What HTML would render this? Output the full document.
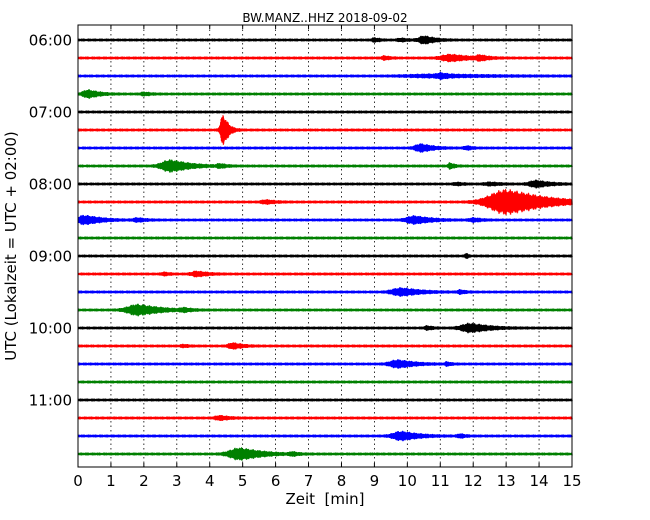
<!DOCTYPE html>
<html><head><meta charset="utf-8"><style>
html,body{margin:0;padding:0;background:#fff;}
svg{display:block;font-family:"DejaVu Sans","Liberation Sans",sans-serif;}
</style></head><body>
<svg id="chart" width="650" height="520" viewBox="0 0 650 520">
<rect x="0" y="0" width="650" height="520" fill="#fff"/>
<text x="325" y="22" font-size="12" text-anchor="middle">BW.MANZ..HHZ 2018-09-02</text>
<g id="grid"></g>
<g id="traces"></g>
<rect x="78" y="25" width="494" height="442" fill="none" stroke="#000" stroke-width="1"/>
<g id="axes"></g>
<text x="325" y="504" font-size="15" text-anchor="middle" xml:space="preserve">Zeit  [min]</text>
<text transform="translate(16,246) rotate(-90)" font-size="15" text-anchor="middle">UTC (Lokalzeit = UTC + 02:00)</text>
</svg>
<script>
const xTicks=[0,1,2,3,4,5,6,7,8,9,10,11,12,13,14,15];
const traceLabels=["06:00","","","","07:00","","","","08:00","","","","09:00","","","","10:00","","","","11:00","","",""];
const traceColors=["#000","#f00","#00f","#008000"];
// events: trace index, peak minute, amplitude (px), duration (min)
const evTrace=[0,0,0,1,1,1,2,2,3,3,5,6,6,7,7,7,8,8,8,9,9,10,10,10,10,12,13,13,14,14,15,15,16,16,17,17,18,18,21,22,22,23,23];
const evMinute=[9.0,9.8,10.5,9.3,11.3,12.2,10.8,11.0,0.3,2.0,4.4,10.4,11.8,2.8,4.3,11.3,12.5,13.9,11.5,13.0,5.7,0.2,1.8,10.2,12.0,11.8,3.6,2.6,9.8,11.6,1.8,3.2,11.9,10.6,4.7,3.2,9.7,11.2,4.3,9.8,11.6,4.9,6.5];
const evAmp=[1.5,1.2,3.5,1.5,3,2,1.2,1.5,3.5,1.2,15,3.5,1.5,5.5,1.5,2.5,1.2,3,1,12,1.5,4,1.5,3.5,1.5,2.5,2.2,1.2,3.5,1.5,5,1.5,4,1.5,2.5,1,3.5,1.5,1.8,4,1.5,5.5,1.5];
const evDur=[0.4,0.5,0.8,0.4,1.4,0.6,4,0.5,0.8,0.5,0.4,0.9,0.4,1.4,0.5,0.3,0.8,1.0,0.5,2.8,0.7,1.2,0.6,1.2,0.6,0.1,0.8,0.4,1.4,0.4,1.6,0.5,1.4,0.4,0.7,0.4,1.2,0.3,0.7,1.3,0.4,1.6,0.4];

const X0=78,X1=572,Y0=25,Y1=467,T0=40,DT=18;
const xs=m=>X0+(m-xTicks[0])/(xTicks[xTicks.length-1]-xTicks[0])*(X1-X0);
const ys=i=>T0+i*DT;
const NS="http://www.w3.org/2000/svg";
const grid=document.getElementById('grid'),axes=document.getElementById('axes'),tr=document.getElementById('traces');
xTicks.forEach(t=>{
  const x=xs(t);
  if(t>xTicks[0]&&t<xTicks[xTicks.length-1]){
    const l=document.createElementNS(NS,'line');
    
    
    l.setAttribute('x1',x);l.setAttribute('x2',x);l.setAttribute('y1',Y0);l.setAttribute('y2',Y1);
    l.setAttribute('stroke','#000');l.setAttribute('stroke-width','0.8');l.setAttribute('stroke-dasharray','1.5,3');
    grid.appendChild(l);
  }
  const tx=document.createElementNS(NS,'text');
  
  
  tx.setAttribute('x',x);tx.setAttribute('y',486);tx.setAttribute('font-size','15');tx.setAttribute('text-anchor','middle');
  tx.textContent=t;axes.appendChild(tx);
  [[Y0,Y0+4],[Y1-4,Y1]].forEach(p=>{
    const k=document.createElementNS(NS,'line');
    
    
    k.setAttribute('x1',x);k.setAttribute('x2',x);k.setAttribute('y1',p[0]);k.setAttribute('y2',p[1]);k.setAttribute('stroke','#000');
    axes.appendChild(k);
  });
});
traceLabels.forEach((lab,i)=>{
  if(!lab)return;
  const tx=document.createElementNS(NS,'text');
  
  
  tx.setAttribute('x',72);tx.setAttribute('y',ys(i)+5.5);tx.setAttribute('font-size','15');tx.setAttribute('text-anchor','end');
  tx.textContent=lab;axes.appendChild(tx);
});
function env(i,m){
  let a=1.5;
  for(let k=0;k<evTrace.length;k++){
    if(evTrace[k]!==i)continue;
    const d=m-evMinute[k];
    const rise=Math.max(0.05,evDur[k]*0.22);
    let e=d<0?Math.exp(-Math.pow(d/rise,2)):Math.exp(-Math.pow(d/(evDur[k]*0.45),1.3));
    a+=evAmp[k]*e;
  }
  return a;
}
for(let i=0;i<traceLabels.length;i++){
  const y=ys(i);let d='';
  const m0=xTicks[0],m1=xTicks[xTicks.length-1];
  for(let x=X0;x<=X1;x+=0.5){
    const m=m0+(x-X0)/(X1-X0)*(m1-m0);
    const a=env(i,m)*(0.7+0.3*Math.abs(Math.sin(x*1.37+i*0.7)*Math.cos(x*0.53+i)));
    d+=(d?'L':'M')+x.toFixed(1)+','+(y-a).toFixed(1)+'L'+(x+0.25).toFixed(1)+','+(y+a).toFixed(1);
  }
  const p=document.createElementNS(NS,'path');
  
  
  p.setAttribute('d',d);p.setAttribute('fill','none');
  p.setAttribute('stroke',traceColors[i%4]);p.setAttribute('stroke-width','0.9');
  tr.appendChild(p);
}
</script>
</body></html>
